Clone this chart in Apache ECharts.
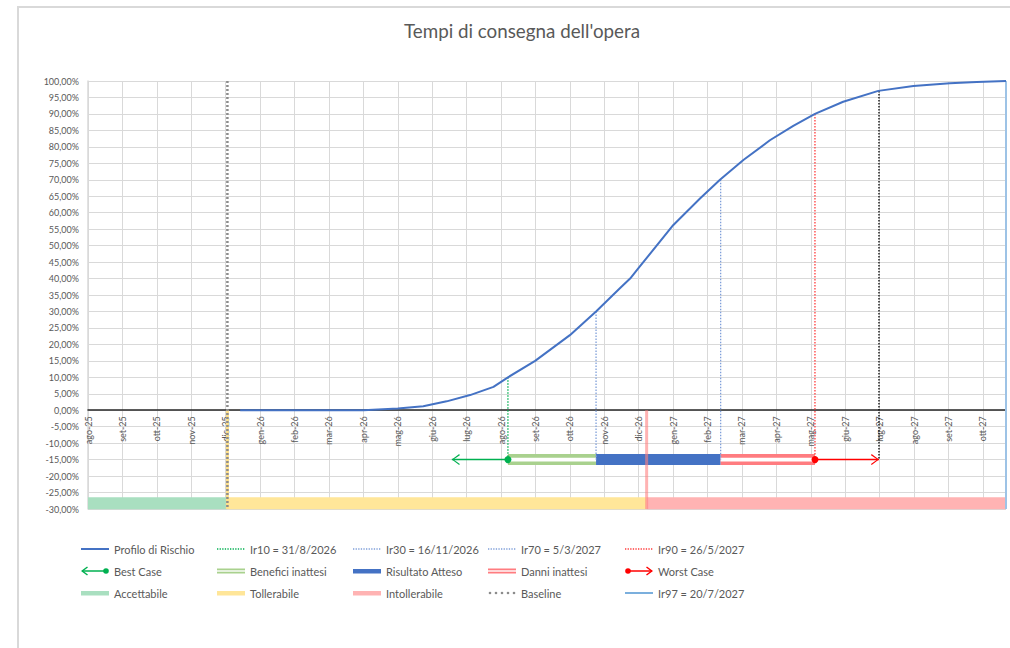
<!DOCTYPE html>
<html>
<head>
<meta charset="utf-8">
<script src="https://cdn.jsdelivr.net/npm/echarts@6/dist/echarts.min.js"></script>
<style>
html,body{margin:0;padding:0;background:#fff;}
#chart{width:1010px;height:648px;}
</style>
</head>
<body>
<div id="chart"></div>
<script>
// ---------- DATA ----------
const months = ['ago-25','set-25','ott-25','nov-25','dic-25','gen-26','feb-26','mar-26','apr-26','mag-26','giu-26','lug-26','ago-26','set-26','ott-26','nov-26','dic-26','gen-27','feb-27','mar-27','apr-27','mag-27','giu-27','lug-27','ago-27','set-27','ott-27'];
const xMax = 26.67;
const curveX = [4.42, 8.0, 9.0, 9.74, 10.42, 11.1, 11.78, 12.2, 12.99, 14.0, 14.76, 15.46, 15.75, 15.98, 17.0, 17.78, 18.36, 19.04, 19.81, 20.49, 21.12, 21.94, 22.96, 23.98, 25.04, 25.82, 26.67];
const curveY = [0, 0, 0.5, 1.2, 2.7, 4.6, 7.1, 10, 15, 22.8, 30, 37.1, 40, 43, 56.2, 64.3, 70, 76, 82, 86.4, 90, 93.7, 97, 98.5, 99.3, 99.7, 100];
const irLabels = ['Ir10 = 31/8/2026', 'Ir30 = 16/11/2026', 'Ir70 = 5/3/2027', 'Ir90 = 26/5/2027'];
const irX = [12.2, 14.76, 18.38, 21.12];
const irY = [10, 30, 70, 90];
const ir97Label = 'Ir97 = 20/7/2027';
const ir97X = 22.98;
const ir97Y = 97;
const baselineX = 4.05;
const zoneNames = ['Accettabile', 'Tollerabile', 'Intollerabile'];
const zoneStart = [0, 4.05, 16.23];
const zoneEnd = [4.05, 16.23, 26.67];
const outcomeNames = ['Benefici inattesi', 'Risultato Atteso', 'Danni inattesi'];
const outcomeStart = [12.2, 14.76, 18.38];
const outcomeEnd = [14.76, 18.38, 21.12];
const outcomeLevel = -15;
const zoneLevel = -28.25;
const bestCaseX = [12.2, 10.57];
const worstCaseX = [21.12, 22.98];
const yMin = -30, yMax = 100, yStep = 5;

// ---------- STYLE ----------
const FONT = 'Lato, "Liberation Sans", sans-serif';
const TXT = '#595959';
const GRID = '#d9d9d9';
const cBlue = '#4472c4', cGreen = '#00b050', cRed = '#ff0000';
const irColors = ['#00b050', '#7f9fd9', '#7f9fd9', '#ff3b3b'];
const zoneColors = ['#a9dfc0', '#ffe699', '#ffb3b3'];
const outcomeColors = ['#a9d18e', '#4472c4', '#ff7c80'];
const gridTop = 81, gridBottom = 139, plotH = 648 - gridTop - gridBottom;

function svgIcon(inner) {
  return 'image://data:image/svg+xml;utf8,' + encodeURIComponent(
    '<svg xmlns="http://www.w3.org/2000/svg" width="28" height="12" viewBox="0 0 28 12">' + inner + '</svg>');
}
const lineIcon = (c, w, dash) => svgIcon('<line x1="0" y1="6" x2="28" y2="6" stroke="' + c + '" stroke-width="' + w + '"' + (dash ? ' stroke-dasharray="' + dash + '"' : '') + '/>');
const barIcon = (c) => svgIcon('<rect x="0" y="4" width="28" height="4.5" fill="' + c + '"/>');
const dblIcon = (c) => svgIcon('<rect x="0" y="3.5" width="28" height="5" fill="' + c + '"/><rect x="0" y="5.3" width="28" height="1.4" fill="#fff"/>');
const icons = {
  'Profilo di Rischio': lineIcon(cBlue, 2),
  [irLabels[0]]: lineIcon(irColors[0], 1.4, '1.3,1.3'),
  [irLabels[1]]: lineIcon(irColors[1], 1.4, '1.3,1.3'),
  [irLabels[2]]: lineIcon(irColors[2], 1.4, '1.3,1.3'),
  [irLabels[3]]: lineIcon(irColors[3], 1.4, '1.3,1.3'),
  'Best Case': svgIcon('<line x1="1" y1="6" x2="25" y2="6" stroke="#00b050" stroke-width="1.5"/><polyline points="6.5,2 1.2,6 6.5,10" fill="none" stroke="#00b050" stroke-width="1.5"/><circle cx="25" cy="6" r="2.8" fill="#00b050"/>'),
  [outcomeNames[0]]: dblIcon(outcomeColors[0]),
  [outcomeNames[1]]: barIcon(outcomeColors[1]),
  [outcomeNames[2]]: dblIcon(outcomeColors[2]),
  'Worst Case': svgIcon('<line x1="3" y1="6" x2="27" y2="6" stroke="#ff0000" stroke-width="1.5"/><polyline points="21.5,2 26.8,6 21.5,10" fill="none" stroke="#ff0000" stroke-width="1.5"/><circle cx="3" cy="6" r="2.8" fill="#ff0000"/>'),
  [zoneNames[0]]: barIcon(zoneColors[0]),
  [zoneNames[1]]: barIcon(zoneColors[1]),
  [zoneNames[2]]: barIcon(zoneColors[2]),
  'Baseline': svgIcon('<circle cx="2" cy="6" r="1.3" fill="#8c8c8c"/><circle cx="8" cy="6" r="1.3" fill="#8c8c8c"/><circle cx="14" cy="6" r="1.3" fill="#8c8c8c"/><circle cx="20" cy="6" r="1.3" fill="#8c8c8c"/><circle cx="26" cy="6" r="1.3" fill="#8c8c8c"/>'),
  [ir97Label]: lineIcon('#5b9bd5', 1.6)
};
const legendCols = [
  ['Profilo di Rischio', 'Best Case', zoneNames[0]],
  [irLabels[0], outcomeNames[0], zoneNames[1]],
  [irLabels[1], outcomeNames[1], zoneNames[2]],
  [irLabels[2], outcomeNames[2], 'Baseline'],
  [irLabels[3], 'Worst Case', ir97Label]
];
const legendLeft = [81, 217, 353, 488, 625];

const chevL = 'path://M10,0 L0,6 L10,12 L10.9,10.8 L2.3,6 L10.9,1.2 Z';
const chevR = 'path://M0.9,0 L10.9,6 L0.9,12 L0,10.8 L8.6,6 L0,1.2 Z';

function seg(x1, y1, x2, y2) { return [[x1, y1], [x2, y2]]; }
const noSym = { showSymbol: false, symbol: 'none', silent: true };

const series = [];
zoneNames.forEach((n, i) => {
  series.push(Object.assign({ type: 'line', name: n, data: seg(zoneStart[i], zoneLevel, zoneEnd[i], zoneLevel),
    lineStyle: { color: zoneColors[i], width: 12, cap: 'butt' }, itemStyle: { color: zoneColors[i] }, z: 2 }, noSym));
});
series.push(Object.assign({ type: 'line', name: zoneNames[1], data: seg(zoneStart[1], 0, zoneStart[1], yMin),
  lineStyle: { color: '#ffe08a', width: 3 }, itemStyle: { color: zoneColors[1] }, z: 3 }, noSym));
series.push(Object.assign({ type: 'line', name: 'Baseline', data: seg(baselineX, yMax, baselineX, yMin),
  lineStyle: { color: '#8c8c8c', width: 2.5, type: [2, 2] }, itemStyle: { color: '#8c8c8c' }, z: 4 }, noSym));
outcomeNames.forEach((n, i) => {
  series.push(Object.assign({ type: 'line', name: n, data: seg(outcomeStart[i], outcomeLevel, outcomeEnd[i], outcomeLevel),
    lineStyle: { color: outcomeColors[i], width: 11, cap: 'butt' }, itemStyle: { color: outcomeColors[i] }, z: 5 }, noSym));
  if (i !== 1) {
    series.push(Object.assign({ type: 'line', name: n + ' (interno)', data: seg(outcomeStart[i], outcomeLevel, outcomeEnd[i], outcomeLevel),
      lineStyle: { color: '#ffffff', width: 3.6, cap: 'butt' }, itemStyle: { color: '#fff' }, z: 6 }, noSym));
  }
});
irLabels.forEach((n, i) => {
  series.push(Object.assign({ type: 'line', name: n, data: seg(irX[i], irY[i], irX[i], outcomeLevel),
    lineStyle: { color: irColors[i], width: 1.3, type: [1.5, 1.5] }, itemStyle: { color: irColors[i] }, z: 7 }, noSym));
});
series.push(Object.assign({ type: 'line', name: 'Ir97 marker', data: seg(ir97X, ir97Y, ir97X, outcomeLevel),
  lineStyle: { color: '#000000', width: 1.3, type: [1.5, 1.5] }, z: 7 }, noSym));
series.push(Object.assign({ type: 'line', name: ir97Label, data: seg(xMax, yMax, xMax, yMin), clip: false,
  lineStyle: { color: '#9dc3e6', width: 2 }, itemStyle: { color: '#5b9bd5' }, z: 3 }, noSym));
series.push(Object.assign({ type: 'line', name: 'Profilo di Rischio', data: curveX.map((x, i) => [x, curveY[i]]),
  lineStyle: { color: cBlue, width: 2 }, itemStyle: { color: cBlue }, z: 8 }, noSym));
series.push({ type: 'line', name: 'Best Case', silent: true, showSymbol: true, z: 9,
  lineStyle: { color: cGreen, width: 1.5 }, itemStyle: { color: cGreen },
  data: [
    { value: [bestCaseX[0], outcomeLevel], symbol: 'circle', symbolSize: 7 },
    { value: [bestCaseX[1], outcomeLevel], symbol: chevL, symbolSize: [8, 11], symbolOffset: [4, 0] }
  ] });
series.push({ type: 'line', name: 'Worst Case', silent: true, showSymbol: true, z: 9,
  lineStyle: { color: cRed, width: 1.5 }, itemStyle: { color: cRed },
  data: [
    { value: [worstCaseX[0], outcomeLevel], symbol: 'circle', symbolSize: 7 },
    { value: [worstCaseX[1], outcomeLevel], symbol: chevR, symbolSize: [8, 11], symbolOffset: [-4, 0] }
  ] });
series.push(Object.assign({ type: 'line', name: zoneNames[2], data: seg(zoneStart[2], 0, zoneStart[2], yMin),
  lineStyle: { color: '#ff8080', width: 3, opacity: 0.6 }, itemStyle: { color: zoneColors[2] }, z: 10 }, noSym));

const legends = legendCols.map((col, i) => ({
  orient: 'vertical', left: legendLeft[i], top: 543, padding: 0,
  itemWidth: 28, itemHeight: 12, itemGap: 10, selectedMode: false,
  textStyle: { color: TXT, fontSize: 11, fontFamily: FONT, lineHeight: 12 },
  data: col.map(n => ({ name: n, icon: icons[n] }))
}));

// x axis sits on the 0% line: shift it up from the grid bottom by the zero's distance
const zeroOffset = -plotH * (0 - yMin) / (yMax - yMin);

const chart = echarts.init(document.getElementById('chart'), null, { renderer: 'svg' });
chart.setOption({
  animation: false,
  backgroundColor: '#ffffff',
  textStyle: { fontFamily: FONT },
  graphic: [
    { type: 'rect', shape: { x: 18, y: 7, width: 1100, height: 700 }, style: { fill: 'none', stroke: '#d9d9d9', lineWidth: 2 }, z: -10, silent: true },
    { type: 'text', x: 522, y: 30, style: { text: "Tempi di consegna dell'opera", textAlign: 'center', textVerticalAlign: 'middle', fontSize: 18.8, fill: TXT, fontFamily: FONT }, silent: true }
  ],
  legend: legends,
  grid: { left: 88, right: 4, top: gridTop, bottom: gridBottom, containLabel: false },
  xAxis: {
    type: 'value', min: 0, max: xMax, interval: 1, offset: zeroOffset,
    axisLine: { show: true, onZero: false, lineStyle: { color: '#262626', width: 1.5 } },
    axisTick: { show: false },
    splitLine: { show: true, lineStyle: { color: GRID, width: 1 } },
    axisLabel: {
      rotate: 90, margin: 6, fontSize: 9, color: TXT, fontFamily: FONT,
      showMinLabel: true, showMaxLabel: true,
      formatter: v => { const r = Math.round(v); return Math.abs(v - r) < 1e-6 && months[r] ? months[r] : ''; }
    }
  },
  yAxis: {
    type: 'value', min: yMin, max: yMax, interval: yStep,
    axisLine: { show: true, lineStyle: { color: GRID, width: 1.5 } },
    axisTick: { show: false },
    splitLine: { show: true, lineStyle: { color: GRID, width: 1 } },
    axisLabel: { fontSize: 9, color: TXT, margin: 9, fontFamily: FONT,
      formatter: v => v.toFixed(2).replace('.', ',') + '%' }
  },
  series: series
});
</script>
</body>
</html>
